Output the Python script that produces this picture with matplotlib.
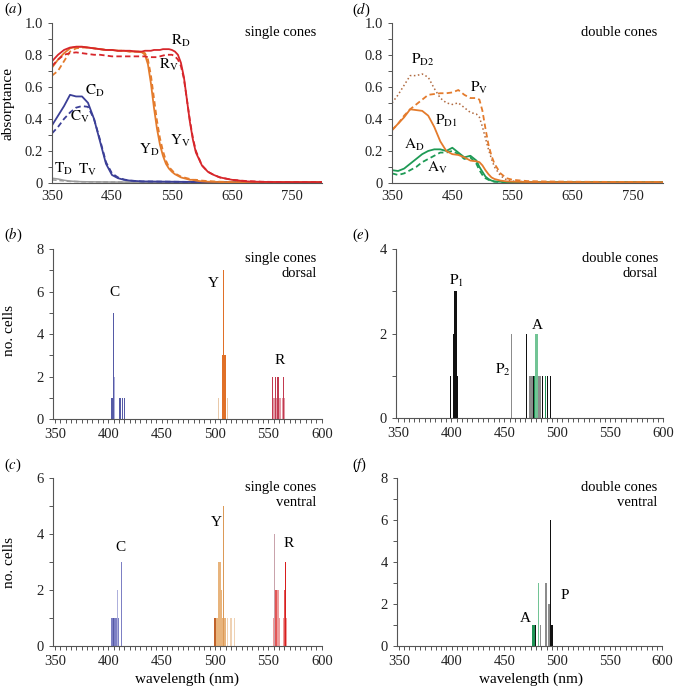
import numpy as np
import matplotlib.pyplot as plt
from matplotlib.ticker import MultipleLocator

plt.rcParams['font.family'] = ['Liberation Serif', 'DejaVu Serif']
plt.rcParams['mathtext.fontset'] = 'stix'
plt.rcParams['font.size'] = 9.5
plt.rcParams['lines.dashed_pattern'] = [3.0, 1.8]

# ---------------- (a) single cones, absorptance ----------------
wl_a = [350, 360, 370, 380, 390, 400, 410, 420, 430, 440, 450, 460, 470, 480, 490, 500,
        505, 510, 515, 520, 525, 530, 535, 540, 545, 550, 555, 560, 565, 570, 575, 580, 585, 590,
        600, 610, 620, 630, 650, 675, 700, 750, 800]
R_D = [0.76, 0.80, 0.83, 0.845, 0.85, 0.85, 0.845, 0.84, 0.835, 0.83, 0.83, 0.825, 0.825, 0.825, 0.82, 0.82,
       0.825, 0.825, 0.825, 0.83, 0.83, 0.83, 0.835, 0.835, 0.835, 0.83, 0.82, 0.80, 0.75, 0.66, 0.52, 0.38, 0.27, 0.19,
       0.11, 0.07, 0.05, 0.035, 0.02, 0.01, 0.007, 0.005, 0.005]
R_V = [0.73, 0.77, 0.80, 0.81, 0.815, 0.81, 0.805, 0.80, 0.80, 0.795, 0.79, 0.79, 0.79, 0.79, 0.79, 0.79,
       0.79, 0.785, 0.785, 0.785, 0.785, 0.79, 0.795, 0.80, 0.80, 0.80, 0.79, 0.77, 0.73, 0.65, 0.52, 0.39, 0.28, 0.20,
       0.11, 0.07, 0.05, 0.035, 0.02, 0.012, 0.008, 0.005, 0.005]
Y_D = [0.72, 0.77, 0.81, 0.84, 0.85, 0.85, 0.845, 0.84, 0.835, 0.83, 0.83, 0.825, 0.825, 0.82, 0.82, 0.815,
       0.80, 0.74, 0.62, 0.47, 0.34, 0.24, 0.17, 0.12, 0.09, 0.07, 0.055, 0.045, 0.035, 0.03, 0.025, 0.02, 0.02, 0.015,
       0.01, 0.008, 0.007, 0.006, 0.005, 0.005, 0.005, 0.005, 0.005]
Y_V = [0.67, 0.70, 0.76, 0.82, 0.84, 0.845, 0.845, 0.84, 0.835, 0.83, 0.83, 0.825, 0.825, 0.82, 0.82, 0.82,
       0.81, 0.77, 0.67, 0.53, 0.39, 0.28, 0.20, 0.14, 0.10, 0.08, 0.06, 0.05, 0.04, 0.035, 0.03, 0.025, 0.02, 0.02,
       0.015, 0.012, 0.01, 0.008, 0.006, 0.005, 0.005, 0.005, 0.005]
wl_c = [350, 360, 370, 380, 390, 400, 410, 420, 430, 440, 450, 460, 470, 480, 500, 550, 600, 700, 800]
C_D = [0.36, 0.42, 0.48, 0.55, 0.54, 0.54, 0.50, 0.40, 0.26, 0.12, 0.05, 0.03, 0.02, 0.015, 0.01, 0.008, 0.006, 0.005, 0.005]
C_V = [0.31, 0.35, 0.40, 0.44, 0.47, 0.48, 0.475, 0.40, 0.27, 0.13, 0.06, 0.035, 0.022, 0.015, 0.01, 0.008, 0.006, 0.005, 0.005]
wl_t = [350, 360, 370, 380, 400, 450, 500, 600, 700, 800]
T_D = [0.03, 0.025, 0.017, 0.012, 0.008, 0.006, 0.005, 0.004, 0.004, 0.004]
T_V = [0.02, 0.016, 0.013, 0.01, 0.008, 0.006, 0.005, 0.004, 0.004, 0.004]

# ---------------- (d) double cones, absorptance ----------------
wl_d = [350, 360, 370, 380, 390, 400, 410, 420, 430, 440, 450, 460, 470, 480, 490, 495, 500, 505, 510, 515,
        520, 530, 540, 550, 575, 600, 650, 700, 750, 800]
P_D2 = [0.50, 0.55, 0.61, 0.67, 0.67, 0.68, 0.66, 0.59, 0.53, 0.50, 0.49, 0.50, 0.47, 0.44, 0.43, 0.41, 0.35, 0.28, 0.21, 0.15,
        0.10, 0.045, 0.02, 0.012, 0.008, 0.006, 0.005, 0.005, 0.005, 0.005]
P_V = [0.33, 0.37, 0.42, 0.46, 0.49, 0.52, 0.55, 0.555, 0.56, 0.56, 0.565, 0.58, 0.55, 0.53, 0.53, 0.52, 0.45, 0.34, 0.24, 0.17,
       0.12, 0.06, 0.03, 0.02, 0.012, 0.01, 0.008, 0.007, 0.006, 0.006]
P_D1 = [0.33, 0.37, 0.41, 0.46, 0.455, 0.45, 0.42, 0.35, 0.26, 0.20, 0.18, 0.175, 0.16, 0.14, 0.135, 0.13, 0.11, 0.08, 0.055, 0.035,
        0.025, 0.015, 0.01, 0.008, 0.006, 0.005, 0.005, 0.005, 0.005, 0.005]
A_D = [0.08, 0.075, 0.09, 0.12, 0.15, 0.18, 0.20, 0.21, 0.21, 0.20, 0.22, 0.19, 0.16, 0.17, 0.14, 0.10, 0.07, 0.04, 0.025, 0.015,
       0.01, 0.008, 0.006, 0.005, 0.005, 0.005, 0.005, 0.006, 0.006, 0.005]
A_V = [0.06, 0.05, 0.06, 0.08, 0.10, 0.13, 0.15, 0.17, 0.19, 0.19, 0.20, 0.18, 0.15, 0.16, 0.12, 0.08, 0.05, 0.03, 0.02, 0.012,
       0.008, 0.006, 0.005, 0.005, 0.005, 0.005, 0.005, 0.005, 0.005, 0.005]

# ---------------- (b) single cones dorsal, lambda max counts ----------------
b_wl = [403, 404, 405, 406, 411, 413, 415, 503, 507, 508, 509, 510, 512,
        554, 555, 556, 557, 558, 559, 560, 561, 563, 564, 565]
b_n = [1, 1, 5, 2, 1, 1, 1, 1, 3, 7, 3, 3, 1,
       2, 1, 1, 2, 1, 2, 1, 1, 1, 2, 1]
b_shade = ['C', 'C', 'C', 'Cl', 'C', 'C', 'C', 'Yl', 'Y', 'Y', 'Y', 'Y', 'Yl',
           'R', 'Rl', 'Rl', 'R', 'Rl', 'R', 'Rl', 'Rl', 'Rl', 'R', 'Rl']

# ---------------- (c) single cones ventral ----------------
c_wl = [403, 404, 405, 406, 407, 408, 409, 410, 412,
        500, 501, 502, 503, 504, 505, 506, 507, 508, 509, 510, 512, 515, 518,
        555, 556, 557, 558, 559, 560, 564, 565, 566, 567]
c_n = [1, 1, 1, 1, 1, 1, 2, 1, 3,
       1, 1, 1, 3, 3, 3, 2, 1, 5, 1, 1, 1, 1, 1,
       1, 4, 2, 2, 2, 1, 1, 2, 3, 1]
c_shade = ['Cm', 'Cm', 'C', 'Cm', 'Cm', 'Cm', 'Cl', 'Cm', 'Cm',
           'Yd', 'Y', 'Y', 'Y', 'Y', 'Y', 'Y', 'Y', 'Ym', 'Y', 'Y', 'Yl', 'Yl', 'Yl',
           'Rl', 'Rg', 'R', 'R', 'Rl', 'Rl', 'Rl', 'R', 'Rd', 'Rl']

# ---------------- (e) double cones dorsal ----------------
e_wl = [399, 402, 403, 404, 405, 406, 457, 471, 474, 475, 476, 477, 478, 479, 480, 481,
        482, 483, 484, 486, 489, 491, 494]
e_n = [1, 2, 3, 3, 3, 1, 2, 2, 1, 1, 1, 1, 1, 1, 2, 2,
       1, 1, 1, 1, 1, 1, 1]
e_shade = ['K', 'K', 'K', 'K', 'K', 'K', 'G', 'K', 'G', 'G', 'G', 'G', 'K', 'A', 'Al', 'Al',
           'G', 'G', 'G', 'K', 'A', 'K', 'K']

# ---------------- (f) double cones ventral ----------------
f_wl = [477, 478, 479, 480, 482, 484, 489, 490, 492, 493, 494, 495, 496]
f_n = [1, 1, 1, 1, 3, 1, 3, 3, 2, 2, 6, 1, 1]
f_shade = ['A', 'A', 'A', 'K', 'Al', 'G', 'G', 'G', 'G', 'G', 'K', 'K', 'K']

shade_col = {'C': '#555aa6', 'Cm': '#7d80c4', 'Cl': '#aeb0dc',
             'Y': '#e07028', 'Yl': '#e9c9a9', 'Yd': '#c0622a', 'Ym': '#dc9a58',
             'R': '#c23a50', 'Rl': '#e29aa6', 'Rd': '#d81e1e', 'Rg': '#c9a3ac',
             'K': '#111111', 'G': '#8c8c8c', 'A': '#1f9455', 'Al': '#72c495'}
# ventral panel (c) uses slightly different hues
shade_col_c = dict(shade_col, Y='#e8b47c', Yl='#efd2b4', R='#e25656', Rl='#ee9c9c')

RED, ORANGE, BLUE, GREEN, GREY, BROWN = '#d7262b', '#e47b2c', '#3b3f97', '#1e9a55', '#9a9a9a', '#b06a40'
SPINE = '#555555'
LW = 1.3


def style_axes(ax):
    for s in ['top', 'right']:
        ax.spines[s].set_visible(False)
    for s in ['left', 'bottom']:
        ax.spines[s].set_color(SPINE)
        ax.spines[s].set_linewidth(0.8)
    ax.tick_params(which='both', direction='out', color=SPINE, labelcolor='#222222',
                   labelsize=10.5, width=0.7)


def absorb_axes(ax):
    style_axes(ax)
    ax.set_xlim(350, 800)
    ax.set_ylim(0, 1.0)
    ax.set_xticks([350, 450, 550, 650, 750])
    ax.set_yticks([0, 0.2, 0.4, 0.6, 0.8, 1.0])
    ax.set_yticklabels(['0', '0.2', '0.4', '0.6', '0.8', '1.0'])
    ax.yaxis.set_minor_locator(MultipleLocator(0.1))
    ax.tick_params(axis='x', length=0, pad=5)
    ax.tick_params(axis='y', which='both', length=3)


def hist_axes(ax, ymax, ystep):
    style_axes(ax)
    ax.set_xlim(348, 600)
    ax.set_ylim(0, ymax)
    ax.set_xticks([350, 400, 450, 500, 550, 600])
    ax.xaxis.set_minor_locator(MultipleLocator(5))
    ax.set_yticks(np.arange(0, ymax + 1, ystep))
    ax.yaxis.set_minor_locator(MultipleLocator(1))
    ax.tick_params(which='both', length=3)


def draw_hist(ax, wl, n, shade, cols):
    wl = np.array(wl)
    n = np.array(n)
    shade = np.array(shade)
    # tall bars first, low wide ones on top
    for i in np.argsort(-n, kind='stable'):
        ax.bar(wl[i], n[i], width=1.0, color=cols[shade[i]], linewidth=0)


fig = plt.figure(figsize=(6.76, 6.88), dpi=100)

# (a)
ax = fig.add_axes([0.077, 0.734, 0.399, 0.233])
absorb_axes(ax)
ax.plot(wl_t, T_D, color=GREY, lw=1.1)
ax.plot(wl_t, T_V, color=GREY, lw=1.1, ls='--')
ax.plot(wl_c, C_V, color=BLUE, lw=LW, ls='--')
ax.plot(wl_c, C_D, color=BLUE, lw=LW)
ax.plot(wl_a, Y_V, color=ORANGE, lw=LW, ls='--')
ax.plot(wl_a, Y_D, color=ORANGE, lw=LW)
ax.plot(wl_a, R_V, color=RED, lw=LW, ls='--')
ax.plot(wl_a, R_D, color=RED, lw=LW)
ax.text(548, 0.86, r'$\mathrm{R_D}$', fontsize=11)
ax.text(528, 0.71, r'$\mathrm{R_V}$', fontsize=11)
ax.text(405, 0.55, r'$\mathrm{C_D}$', fontsize=11)
ax.text(380, 0.39, r'$\mathrm{C_V}$', fontsize=11)
ax.text(495, 0.18, r'$\mathrm{Y_D}$', fontsize=11)
ax.text(547, 0.24, r'$\mathrm{Y_V}$', fontsize=11)
ax.text(353, 0.065, r'$\mathrm{T_D}$', fontsize=11)
ax.text(393, 0.055, r'$\mathrm{T_V}$', fontsize=11)
ax.text(0.98, 0.94, 'single cones', transform=ax.transAxes, ha='right', va='center', fontsize=10.5)
fig.text(0.012, 0.850, 'absorptance', rotation=90, ha='center', va='center', fontsize=11)

# (d)
ax = fig.add_axes([0.580, 0.734, 0.401, 0.233])
absorb_axes(ax)
ax.plot(wl_d, A_V, color=GREEN, lw=LW, ls='--')
ax.plot(wl_d, A_D, color=GREEN, lw=LW)
ax.plot(wl_d, P_D2, color=BROWN, lw=1.1, ls=':')
ax.plot(wl_d, P_V, color=ORANGE, lw=LW, ls='--')
ax.plot(wl_d, P_D1, color=ORANGE, lw=LW)
ax.text(382, 0.74, r'$\mathrm{P_{D2}}$', fontsize=11)
ax.text(480, 0.57, r'$\mathrm{P_V}$', fontsize=11)
ax.text(422, 0.36, r'$\mathrm{P_{D1}}$', fontsize=11)
ax.text(369, 0.21, r'$\mathrm{A_D}$', fontsize=11)
ax.text(408, 0.07, r'$\mathrm{A_V}$', fontsize=11)
ax.text(0.98, 0.94, 'double cones', transform=ax.transAxes, ha='right', va='center', fontsize=10.5)

# (b)
ax = fig.add_axes([0.078, 0.391, 0.398, 0.247])
hist_axes(ax, 8, 2)
draw_hist(ax, b_wl, b_n, b_shade, shade_col)
ax.text(406, 5.8, 'C', fontsize=11, ha='center')
ax.text(498, 6.2, 'Y', fontsize=11, ha='center')
ax.text(561, 2.6, 'R', fontsize=11, ha='center')
ax.text(0.98, 0.985, 'single cones\ndorsal', transform=ax.transAxes, ha='right', va='top',
        fontsize=10.5, multialignment='right', linespacing=1.25)
fig.text(0.014, 0.520, 'no. cells', rotation=90, ha='center', va='center', fontsize=11)

# (e)
ax = fig.add_axes([0.586, 0.392, 0.395, 0.246])
hist_axes(ax, 4, 2)
draw_hist(ax, e_wl, e_n, e_shade, shade_col)
ax.text(405, 3.15, r'$\mathrm{P_1}$', fontsize=11, ha='center')
ax.text(449, 1.05, r'$\mathrm{P_2}$', fontsize=11, ha='center')
ax.text(481, 2.12, 'A', fontsize=11, ha='center')
ax.text(0.98, 0.985, 'double cones\ndorsal', transform=ax.transAxes, ha='right', va='top',
        fontsize=10.5, multialignment='right', linespacing=1.25)

# (c)
ax = fig.add_axes([0.078, 0.061, 0.398, 0.244])
hist_axes(ax, 6, 2)
draw_hist(ax, c_wl, c_n, c_shade, shade_col_c)
ax.text(411, 3.4, 'C', fontsize=11, ha='center')
ax.text(501, 4.3, 'Y', fontsize=11, ha='center')
ax.text(569, 3.55, 'R', fontsize=11, ha='center')
ax.text(0.98, 0.985, 'single cones\nventral', transform=ax.transAxes, ha='right', va='top',
        fontsize=10.5, multialignment='right', linespacing=1.25)
fig.text(0.014, 0.183, 'no. cells', rotation=90, ha='center', va='center', fontsize=11)
fig.text(0.277, 0.012, 'wavelength (nm)', ha='center', va='center', fontsize=11)

# (f)
ax = fig.add_axes([0.587, 0.061, 0.393, 0.244])
hist_axes(ax, 8, 2)
draw_hist(ax, f_wl, f_n, f_shade, shade_col)
ax.text(470, 1.15, 'A', fontsize=11, ha='center')
ax.text(507, 2.25, 'P', fontsize=11, ha='center')
ax.text(0.98, 0.985, 'double cones\nventral', transform=ax.transAxes, ha='right', va='top',
        fontsize=10.5, multialignment='right', linespacing=1.25)
fig.text(0.785, 0.012, 'wavelength (nm)', ha='center', va='center', fontsize=11)

# panel letters
for lbl, x, y in [('a', 0.006, 0.986), ('d', 0.521, 0.986), ('b', 0.006, 0.658),
                  ('e', 0.521, 0.658), ('c', 0.006, 0.324), ('f', 0.521, 0.324)]:
    fig.text(x, y, r'($\mathit{%s}$)' % lbl, fontsize=10.5, va='center')

fig.savefig('out.png', dpi=100)
